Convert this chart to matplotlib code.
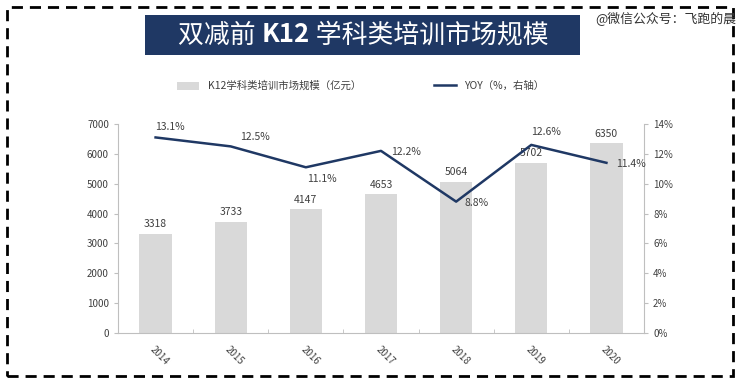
import matplotlib
matplotlib.use("Agg")
import matplotlib.pyplot as plt
from matplotlib.patches import Rectangle
import numpy as np

plt.rcParams['font.family'] = ['Noto Sans CJK SC', 'DejaVu Sans']

years = ["2014", "2015", "2016", "2017", "2018", "2019", "2020"]
market = [3318, 3733, 4147, 4653, 5064, 5702, 6350]
yoy = [13.1, 12.5, 11.1, 12.2, 8.8, 12.6, 11.4]
title_parts = ["双减前 ", "K12", " 学科类培训市场规模"]
bar_label = "K12学科类培训市场规模（亿元）"
line_label = "YOY（%，右轴）"
watermark = "@微信公众号：飞跑的晨"

navy = "#1f3864"
bar_color = "#d9d9d9"
text_color = "#404040"
spine_color = "#bfbfbf"

fig = plt.figure(figsize=(7.47, 3.84), dpi=100)

# dashed border
border = Rectangle((7/747, 1 - 376/384), (733-7)/747, (376-7)/384, transform=fig.transFigure,
                   fill=False, edgecolor="black", linewidth=2, linestyle=(0, (4, 2.5)))
fig.patches.append(border)

# title box
tb = Rectangle((145/747, 1 - 55/384), (580-145)/747, 40/384, transform=fig.transFigure,
               facecolor=navy, edgecolor="none")
fig.patches.append(tb)
t1 = fig.text(178/747, 1 - 35/384, title_parts[0], color="white", fontsize=18.6,
              ha="left", va="center", fontweight="light")
t2 = fig.text(0, 0, title_parts[1], color="white", fontsize=18.6, fontweight="bold",
              ha="left", va="bottom", transform=None)
t3 = fig.text(0, 0, title_parts[2], color="white", fontsize=18.6, fontweight="light",
              ha="left", va="bottom", transform=None)
fig.canvas.draw()
r = fig.canvas.get_renderer()
bb1 = t1.get_window_extent(r)
t2.set_position((bb1.x1, bb1.y0))
fig.canvas.draw()
bb2 = t2.get_window_extent(r)
t3.set_position((bb2.x1, bb1.y0))

fig.text(736/747, 1 - 19/384, watermark, color="#333333", fontsize=9.3, ha="right", va="center")

ax = fig.add_axes([118/747, 1 - 333/384, (644-118)/747, (333-124)/384])
x = np.arange(len(years))
bars = ax.bar(x, market, width=0.43, color=bar_color, label=bar_label, zorder=2)
ax.set_xlim(-0.5, len(years) - 0.5)
ax.set_ylim(0, 7000)
ax.set_yticks(range(0, 7001, 1000))
ax.set_xticks(x)
ax.set_xticklabels(years, rotation=-45, ha="left", rotation_mode="anchor")
ax.tick_params(axis="x", length=0, labelsize=7, colors=text_color, pad=8)
ax.set_xticks(np.arange(-0.5, len(years)), minor=True)
ax.tick_params(axis="x", which="minor", length=3, direction="in", color=spine_color)
ax.tick_params(axis="y", labelsize=7, colors=text_color, length=3, color=spine_color)
for s in ["top", "right"]:
    ax.spines[s].set_visible(False)
for s in ["left", "bottom"]:
    ax.spines[s].set_color(spine_color)
for xi, v in zip(x, market):
    ax.text(xi, v + 150, str(v), ha="center", va="bottom", fontsize=7.5, color=text_color)

ax2 = ax.twinx()
line, = ax2.plot(x, yoy, color=navy, linewidth=1.8, label=line_label, zorder=3)
ax2.set_ylim(0, 14)
ax2.set_yticks(range(0, 15, 2))
ax2.set_yticklabels([f"{t}%" for t in range(0, 15, 2)])
ax2.tick_params(axis="y", labelsize=7, colors=text_color, length=3, color=spine_color)
for s in ["top", "left", "bottom"]:
    ax2.spines[s].set_visible(False)
ax2.spines["right"].set_color(spine_color)

offsets = [(0, 4, "left", "bottom"), (7, 3, "left", "bottom"), (1, -5, "left", "top"),
           (7, -1, "left", "center"), (6, -1, "left", "center"), (0, 6, "left", "bottom"),
           (7, -1, "left", "center")]
for xi, v, (dx, dy, ha, va) in zip(x, yoy, offsets):
    ax2.annotate(f"{v}%", (xi, v), xytext=(dx, dy), textcoords="offset points",
                 ha=ha, va=va, fontsize=7.5, color=text_color)

fig.legend([bars, line], [bar_label, line_label], loc="center", ncol=2,
           bbox_to_anchor=(0.483, 1 - 86/384), frameon=False, fontsize=7.5,
           columnspacing=7.0, handlelength=2.1, handleheight=0.8, labelcolor=text_color)

fig.savefig("out.png", dpi=100)
